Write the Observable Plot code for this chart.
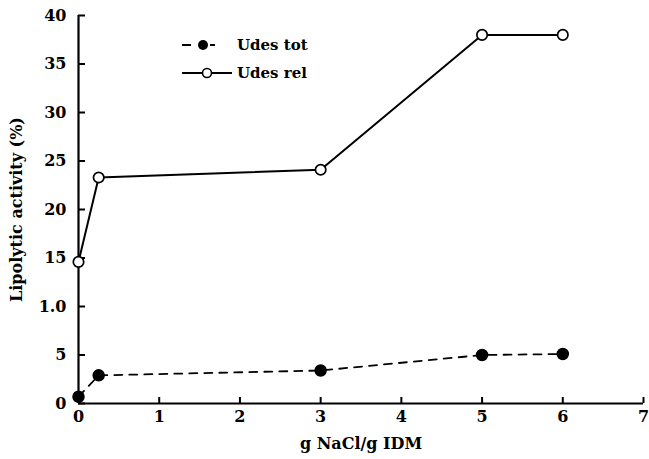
<!DOCTYPE html>
<html>
<head>
<meta charset="utf-8">
<script src="https://cdn.jsdelivr.net/npm/d3@7"></script>
<script src="https://cdn.jsdelivr.net/npm/@observablehq/plot@0.6"></script>
<style>
  html, body { margin: 0; padding: 0; background: #fff; }
  #wrap { position: relative; width: 649px; height: 459px; overflow: hidden; }
  #legend { position: absolute; left: 0; top: 0; }
</style>
</head>
<body>
<div id="wrap"></div>
<script>
// Data
const saltLevels = [0, 0.25, 3, 5, 6];          // g NaCl / g IDM
const udesTot   = [0.7, 2.9, 3.4, 5.0, 5.1];    // Lipolytic activity (%)
const udesRel   = [14.6, 23.3, 24.1, 38.0, 38.0];
const seriesNames = ["Udes tot", "Udes rel"];
const xTicks = [0, 1, 2, 3, 4, 5, 6, 7];
const yTicks = [0, 5, 10, 15, 20, 25, 30, 35, 40];
const yTickLabels = ["0", "5", "1.0", "15", "20", "25", "30", "35", "40"];

const totData = saltLevels.map((x, i) => ({x, y: udesTot[i]}));
const relData = saltLevels.map((x, i) => ({x, y: udesRel[i]}));

const font = "'DejaVu Serif', 'Liberation Serif', serif";

const chart = Plot.plot({
  width: 649,
  height: 459,
  marginLeft: 78,
  marginRight: 6,
  marginTop: 15,
  marginBottom: 56,
  x: {domain: [0, 7]},
  y: {domain: [0, 40]},
  style: {fontFamily: font, fontWeight: "bold", fontSize: "16px", color: "black", background: "white"},
  marks: [
    Plot.axisX({ticks: xTicks, tickSize: -6, tickPadding: 13, strokeWidth: 2,
      tickFormat: d => String(d),
      label: "g NaCl/g IDM", labelAnchor: "center", labelArrow: "none", labelOffset: 45}),
    Plot.axisY({ticks: yTicks, tickSize: -7, tickPadding: 19, strokeWidth: 2,
      tickFormat: d => yTickLabels[yTicks.indexOf(d)],
      label: "Lipolytic activity (%)", labelAnchor: "center", labelArrow: "none", labelOffset: 68}),
    Plot.ruleX([0], {strokeWidth: 2.2}),
    Plot.ruleY([0], {strokeWidth: 2.2}),
    Plot.line(relData, {x: "x", y: "y", stroke: "black", strokeWidth: 2}),
    Plot.line(totData, {x: "x", y: "y", stroke: "black", strokeWidth: 1.8, strokeDasharray: "8,7"}),
    Plot.dot(relData, {x: "x", y: "y", r: 5.2, stroke: "black", strokeWidth: 1.7, fill: "white"}),
    Plot.dot(totData, {x: "x", y: "y", r: 5.5, fill: "black", stroke: "black"})
  ]
});
document.getElementById("wrap").appendChild(chart);

// Legend overlay
const lg = d3.select("#wrap").append("svg")
  .attr("id", "legend").attr("width", 649).attr("height", 459);
const rows = [
  {name: seriesNames[0], y: 45, filled: true},
  {name: seriesNames[1], y: 73, filled: false}
];
rows.forEach(r => {
  const g = lg.append("g");
  if (r.filled) {
    g.append("line").attr("x1", 182).attr("x2", 191).attr("y1", r.y).attr("y2", r.y)
      .attr("stroke", "black").attr("stroke-width", 2);
    g.append("line").attr("x1", 210).attr("x2", 215).attr("y1", r.y).attr("y2", r.y)
      .attr("stroke", "black").attr("stroke-width", 2);
    g.append("circle").attr("cx", 203).attr("cy", r.y).attr("r", 5).attr("fill", "black");
  } else {
    g.append("line").attr("x1", 182).attr("x2", 232).attr("y1", r.y).attr("y2", r.y)
      .attr("stroke", "black").attr("stroke-width", 2);
    g.append("circle").attr("cx", 207).attr("cy", r.y).attr("r", 4.5)
      .attr("fill", "white").attr("stroke", "black").attr("stroke-width", 1.6);
  }
  g.append("text").attr("x", 237).attr("y", r.y).attr("dy", "0.35em")
    .attr("font-family", font).attr("font-weight", "bold").attr("font-size", 15)
    .text(r.name);
});
</script>
</body>
</html>
